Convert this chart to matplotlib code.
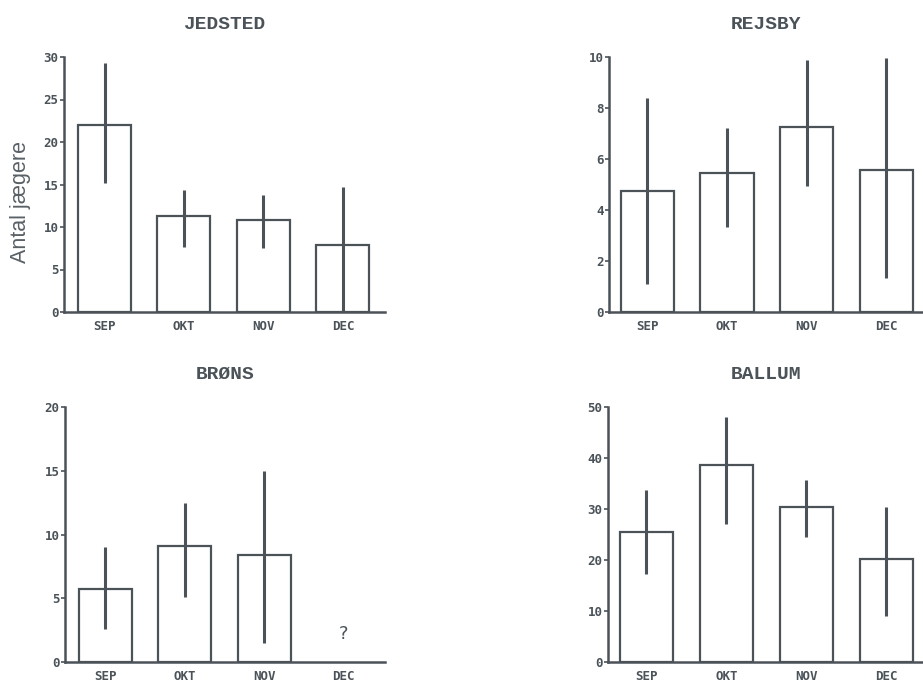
import numpy as np
import matplotlib.pyplot as plt

# data
maaneder = ['SEP', 'OKT', 'NOV', 'DEC']

jedsted = [22.0, 11.3, 10.8, 7.9]
jedsted_lo = [15.2, 7.6, 7.5, 0.0]
jedsted_hi = [29.3, 14.4, 13.8, 14.7]

rejsby = [4.75, 5.45, 7.27, 5.57]
rejsby_lo = [1.1, 3.35, 4.95, 1.35]
rejsby_hi = [8.4, 7.2, 9.88, 9.95]

brons = [5.7, 9.1, 8.4]
brons_lo = [2.6, 5.1, 1.5]
brons_hi = [9.0, 12.5, 15.0]

ballum = [25.5, 38.6, 30.4, 20.2]
ballum_lo = [17.3, 27.1, 24.5, 9.0]
ballum_hi = [33.7, 48.0, 35.7, 30.4]

farve = '#4b5359'
W, H = 923, 684

fig = plt.figure(figsize=(W / 100, H / 100), dpi=100)
fig.patch.set_facecolor('white')

def panel(rect, titel, vaerdier, lo, hi, ymax, yticks, xlim, spoergsmaal=False):
    ax = fig.add_axes(rect)
    x = np.arange(len(vaerdier))
    ax.bar(x, vaerdier, width=0.667, facecolor='white', edgecolor=farve,
           linewidth=1.6, zorder=2)
    ax.vlines(x, lo, hi, color=farve, linewidth=2.2, zorder=3)
    ax.set_xlim(*xlim)
    ax.set_ylim(0, ymax)
    ax.set_xticks(np.arange(4))
    ax.set_xticklabels(maaneder)
    ax.set_yticks(yticks)
    for s in ['top', 'right']:
        ax.spines[s].set_visible(False)
    for s in ['left', 'bottom']:
        ax.spines[s].set_color(farve)
        ax.spines[s].set_linewidth(1.8)
    ax.tick_params(axis='y', length=3, width=1.2, color=farve, pad=1)
    ax.tick_params(axis='x', length=0, pad=6)
    for lab in ax.get_xticklabels() + ax.get_yticklabels():
        lab.set_fontfamily('DejaVu Sans Mono')
        lab.set_fontweight('bold')
        lab.set_fontsize(9)
        lab.set_color(farve)
    ax.set_title(titel, fontfamily='Liberation Mono', fontweight='bold',
                 fontsize=14, color=farve, pad=20)
    if spoergsmaal:
        ax.text(3, 1.5, '?', ha='center', va='bottom', fontsize=13,
                color=farve, fontfamily='DejaVu Sans')
    return ax

top_b, top_h = 1 - 312 / H, 255 / H
bund_b = 1 - 662 / H

ax1 = panel([64 / W, top_b, 321 / W, top_h], 'JEDSTED', jedsted, jedsted_lo,
            jedsted_hi, 30, [0, 5, 10, 15, 20, 25, 30], (-0.51, 3.53))
ax1.set_ylabel('Antal jægere', fontfamily='Liberation Sans', fontsize=15.5,
               color='#5a6166')
ax1.yaxis.set_label_coords(-0.103, 0.431)

panel([609 / W, top_b, 314 / W, top_h], 'REJSBY', rejsby, rejsby_lo,
      rejsby_hi, 10, [0, 2, 4, 6, 8, 10], (-0.48, 3.46))

panel([65 / W, bund_b, 320 / W, top_h], 'BRØNS', brons, brons_lo,
      brons_hi, 20, [0, 5, 10, 15, 20], (-0.51, 3.52), spoergsmaal=True)

panel([608 / W, bund_b, 315 / W, top_h], 'BALLUM', ballum, ballum_lo,
      ballum_hi, 50, [0, 10, 20, 30, 40, 50], (-0.48, 3.46))

fig.savefig('out.png', dpi=100, facecolor='white')
